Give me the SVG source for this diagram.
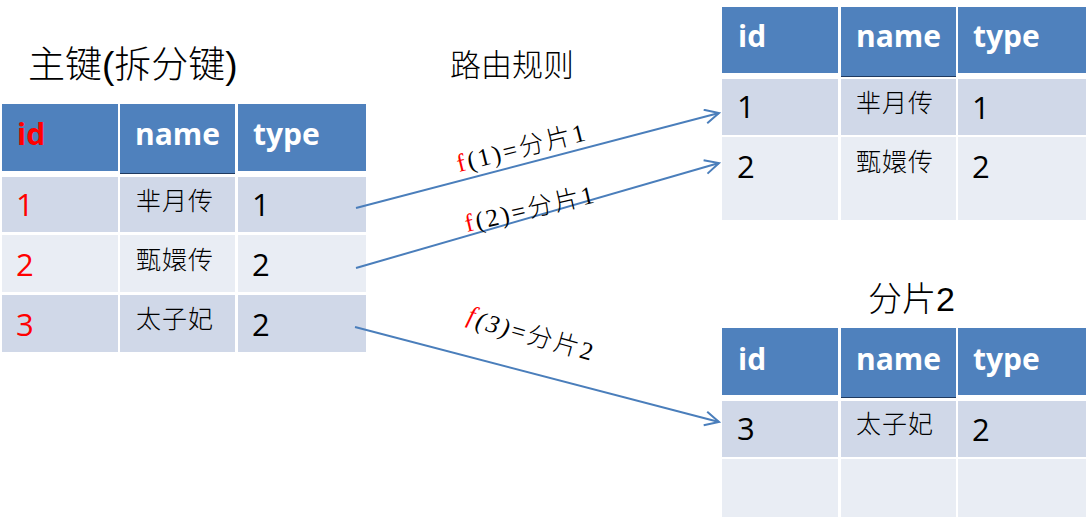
<svg xmlns="http://www.w3.org/2000/svg" width="1088" height="519" viewBox="0 0 1088 519">
<style>
.hd{fill:#4F81BD}
.r1{fill:#D0D8E8}
.r2{fill:#E9EDF4}
.hl{stroke:#1F3A60;stroke-width:1.2}
.ht{font-family:"Open Sans","Liberation Sans",sans-serif;font-weight:bold;font-size:30px;fill:#FFFFFF}
.num{font-family:"Open Sans","Liberation Sans",sans-serif;font-size:31px;fill:#000}
.red{fill:#FF0000}
.cj{font-family:"Noto Sans CJK SC",sans-serif;font-size:25px;font-weight:300;fill:#000;letter-spacing:1px}
.ttl{font-family:"Liberation Sans","Noto Sans CJK SC",sans-serif;font-weight:300;fill:#000}
.lbl{font-family:"Liberation Serif","Noto Sans CJK SC",serif;font-size:25px;font-weight:300;fill:#000;letter-spacing:2.5px}
.cn{fill:none;stroke:#4A7EBB;stroke-width:2}
</style>
<defs>
<marker id="ah" markerUnits="userSpaceOnUse" markerWidth="20" markerHeight="20" refX="15" refY="8" orient="auto">
<path d="M1,1 L15,8 L1,15" fill="none" stroke="#4A7EBB" stroke-width="2"/>
</marker>
</defs>
<rect width="1088" height="519" fill="#FFFFFF"/>

<g id="title-main">
<text class="ttl" x="28" y="78" font-size="37">主键(拆分键)</text>
</g>
<g id="title-rule">
<text class="ttl" x="450" y="76" font-size="31">路由规则</text>
</g>
<g id="title-shard2">
<text class="ttl" x="868" y="311" font-size="34">分片2</text>
</g>

<g id="table-main">
<rect class="hd" x="2" y="104" width="116" height="67"/>
<rect class="hd" x="120" y="104" width="115" height="70"/>
<line class="hl" x1="120" y1="173.5" x2="235" y2="173.5"/>
<rect class="hd" x="238" y="104" width="128" height="67"/>
<rect class="r1" x="2" y="177" width="116" height="55"/>
<rect class="r1" x="120" y="177" width="115" height="55"/>
<rect class="r1" x="238" y="177" width="128" height="55"/>
<rect class="r2" x="2" y="235" width="116" height="57"/>
<rect class="r2" x="120" y="235" width="115" height="57"/>
<rect class="r2" x="238" y="235" width="128" height="57"/>
<rect class="r1" x="2" y="295" width="116" height="57"/>
<rect class="r1" x="120" y="295" width="115" height="57"/>
<rect class="r1" x="238" y="295" width="128" height="57"/>
<text class="ht red" x="17" y="145">id</text>
<text class="ht" x="135" y="145">name</text>
<text class="ht" x="253" y="145">type</text>
<text class="num red" x="16" y="216">1</text>
<text class="cj" x="136" y="210">芈月传</text>
<text class="num" x="252" y="216">1</text>
<text class="num red" x="16" y="276">2</text>
<text class="cj" x="136" y="269">甄嬛传</text>
<text class="num" x="252" y="276">2</text>
<text class="num red" x="16" y="336">3</text>
<text class="cj" x="136" y="328">太子妃</text>
<text class="num" x="252" y="336">2</text>
</g>

<g id="table-shard1">
<rect class="hd" x="722" y="7" width="116" height="66"/>
<rect class="hd" x="841" y="7" width="115" height="70"/>
<line class="hl" x1="841" y1="76.5" x2="956" y2="76.5"/>
<rect class="hd" x="958" y="7" width="128" height="66"/>
<rect class="r1" x="722" y="79" width="116" height="56"/>
<rect class="r1" x="841" y="79" width="115" height="56"/>
<rect class="r1" x="958" y="79" width="128" height="56"/>
<rect class="r2" x="722" y="137" width="116" height="83"/>
<rect class="r2" x="841" y="137" width="115" height="83"/>
<rect class="r2" x="958" y="137" width="128" height="83"/>
<text class="ht" x="738" y="47">id</text>
<text class="ht" x="856" y="47">name</text>
<text class="ht" x="973" y="47">type</text>
<text class="num" x="737" y="118">1</text>
<text class="cj" x="856" y="112">芈月传</text>
<text class="num" x="972" y="119">1</text>
<text class="num" x="737" y="178">2</text>
<text class="cj" x="856" y="171">甄嬛传</text>
<text class="num" x="972" y="178">2</text>
</g>

<g id="table-shard2">
<rect class="hd" x="722" y="328" width="116" height="67"/>
<rect class="hd" x="841" y="328" width="115" height="70"/>
<line class="hl" x1="841" y1="397.5" x2="956" y2="397.5"/>
<rect class="hd" x="958" y="328" width="128" height="67"/>
<rect class="r1" x="722" y="401" width="116" height="56"/>
<rect class="r1" x="841" y="401" width="115" height="56"/>
<rect class="r1" x="958" y="401" width="128" height="56"/>
<rect class="r2" x="722" y="459" width="116" height="58"/>
<rect class="r2" x="841" y="459" width="115" height="58"/>
<rect class="r2" x="958" y="459" width="128" height="58"/>
<text class="ht" x="738" y="370">id</text>
<text class="ht" x="856" y="370">name</text>
<text class="ht" x="973" y="370">type</text>
<text class="num" x="737" y="440">3</text>
<text class="cj" x="856" y="433">太子妃</text>
<text class="num" x="972" y="441">2</text>
</g>

<g id="connectors">
<line class="cn" x1="356" y1="208" x2="719" y2="113" marker-end="url(#ah)"/>
<line class="cn" x1="356" y1="268" x2="719" y2="163" marker-end="url(#ah)"/>
<line class="cn" x1="355" y1="327" x2="719" y2="422" marker-end="url(#ah)"/>
<text class="lbl" transform="translate(459,172) rotate(-14)"><tspan class="red">f</tspan>(1)=分片1</text>
<text class="lbl" transform="translate(467,232) rotate(-13)"><tspan class="red">f</tspan>(2)=分片1</text>
<text class="lbl" transform="translate(466,322) rotate(16)"><tspan class="red" font-style="italic">f</tspan><tspan font-style="italic" dy="3">(3)</tspan>=分片2</text>
</g>
</svg>
